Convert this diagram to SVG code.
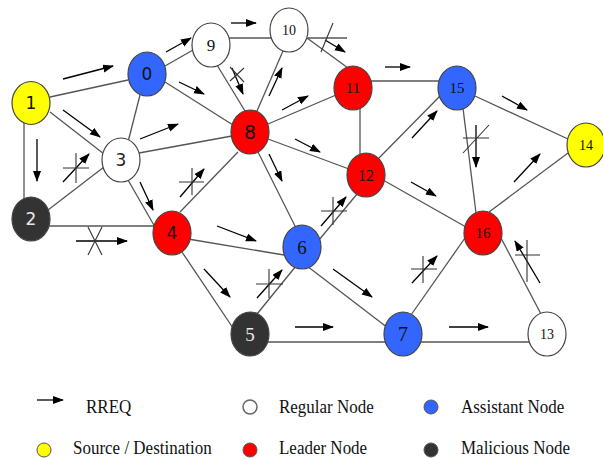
<svg xmlns="http://www.w3.org/2000/svg" width="603" height="459" viewBox="0 0 603 459">
<defs>
<marker id="ah" markerUnits="userSpaceOnUse" markerWidth="11" markerHeight="9" refX="10" refY="4" orient="auto">
<path d="M0,0 L11,4 L0,8 z" fill="#000"/>
</marker>
<style>
.e{stroke:#555;stroke-width:1.3;fill:none}
.a{stroke:#000;stroke-width:1.3;fill:none;marker-end:url(#ah)}
.m{stroke:#333;stroke-width:1.1;fill:none}
.n{stroke:#444;stroke-width:1.2}
.y{fill:#ffff00}.b{fill:#3366ff}.r{fill:#ff0000}.w{fill:#ffffff}.k{fill:#333333}
.ts{text-anchor:middle}
.tr{text-anchor:middle}
.lg{font-size:17px;fill:#111}
</style>
</defs>
<rect width="603" height="459" fill="#fff"/>
<g id="connectors">
<line class="e" x1="50" y1="97" x2="128" y2="80"/>
<line class="e" x1="50" y1="112" x2="104" y2="154"/>
<line class="e" x1="24" y1="118" x2="24" y2="205"/>
<line class="e" x1="48" y1="210" x2="104" y2="167"/>
<line class="e" x1="48" y1="226" x2="155" y2="226"/>
<line class="e" x1="128" y1="142" x2="140" y2="95"/>
<line class="e" x1="139" y1="153" x2="232" y2="136"/>
<line class="e" x1="128" y1="180" x2="155" y2="227"/>
<line class="e" x1="165" y1="66" x2="193" y2="50"/>
<line class="e" x1="165" y1="82" x2="233" y2="125"/>
<line class="e" x1="229" y1="38" x2="271" y2="38"/>
<line class="e" x1="217" y1="65" x2="245" y2="111"/>
<line class="e" x1="283" y1="51" x2="257" y2="111"/>
<line class="e" x1="307" y1="38" x2="348" y2="68"/>
<line class="e" x1="268" y1="124" x2="336" y2="95"/>
<line class="e" x1="268" y1="139" x2="349" y2="169"/>
<line class="e" x1="258" y1="152" x2="296" y2="228"/>
<line class="e" x1="238" y1="152" x2="180" y2="212"/>
<line class="e" x1="371" y1="81" x2="439" y2="81"/>
<line class="e" x1="360" y1="108" x2="360" y2="155"/>
<line class="e" x1="376" y1="161" x2="442" y2="94"/>
<line class="e" x1="383" y1="180" x2="466" y2="227"/>
<line class="e" x1="357" y1="194" x2="319" y2="240"/>
<line class="e" x1="475" y1="96" x2="568" y2="139"/>
<line class="e" x1="463" y1="108" x2="476" y2="213"/>
<line class="e" x1="489" y1="212" x2="568" y2="153"/>
<line class="e" x1="465" y1="238" x2="411" y2="315"/>
<line class="e" x1="501" y1="238" x2="541" y2="314"/>
<line class="e" x1="262" y1="342" x2="535" y2="342"/>
<line class="e" x1="188" y1="239" x2="284" y2="255"/>
<line class="e" x1="182" y1="252" x2="233" y2="328"/>
<line class="e" x1="257" y1="314" x2="296" y2="266"/>
<line class="e" x1="307" y1="266" x2="388" y2="328"/>
<line class="e" x1="308" y1="38" x2="347" y2="38"/>
<line class="a" x1="63" y1="79" x2="113" y2="66"/>
<line class="a" x1="63" y1="110" x2="100" y2="137"/>
<line class="a" x1="37" y1="139" x2="37" y2="181"/>
<line class="a" x1="63" y1="182" x2="89" y2="154"/>
<line class="a" x1="76" y1="241" x2="127" y2="241"/>
<line class="a" x1="140" y1="182" x2="153" y2="210"/>
<line class="a" x1="180" y1="197" x2="204" y2="169"/>
<line class="a" x1="140" y1="139" x2="178" y2="124"/>
<line class="a" x1="166" y1="52" x2="191" y2="38"/>
<line class="a" x1="179" y1="82" x2="204" y2="94"/>
<line class="a" x1="231" y1="23" x2="256" y2="23"/>
<line class="a" x1="232" y1="68" x2="243" y2="94"/>
<line class="a" x1="269" y1="96" x2="282" y2="68"/>
<line class="a" x1="282" y1="110" x2="308" y2="96"/>
<line class="a" x1="295" y1="139" x2="320" y2="152"/>
<line class="a" x1="269" y1="154" x2="282" y2="181"/>
<line class="a" x1="325" y1="40" x2="345" y2="52"/>
<line class="a" x1="385" y1="67" x2="410" y2="67"/>
<line class="a" x1="502" y1="96" x2="527" y2="110"/>
<line class="a" x1="412" y1="138" x2="437" y2="111"/>
<line class="a" x1="476" y1="125" x2="476" y2="167"/>
<line class="a" x1="411" y1="182" x2="436" y2="196"/>
<line class="a" x1="514" y1="182" x2="540" y2="154"/>
<line class="a" x1="412" y1="283" x2="437" y2="256"/>
<line class="a" x1="540" y1="283" x2="515" y2="241"/>
<line class="a" x1="449" y1="327" x2="488" y2="327"/>
<line class="a" x1="295" y1="327" x2="333" y2="327"/>
<line class="a" x1="217" y1="226" x2="256" y2="241"/>
<line class="a" x1="204" y1="269" x2="230" y2="297"/>
<line class="a" x1="257" y1="298" x2="282" y2="270"/>
<line class="a" x1="321" y1="226" x2="346" y2="197"/>
<line class="a" x1="333" y1="269" x2="372" y2="297"/>
<path class="m" d="M63,168 H89 M76,153 V183"/>
<path class="m" d="M88,227 L102,255 M102,227 L88,255"/>
<path class="m" d="M179,182 H204 M192,168 V195"/>
<path class="m" d="M230,67 L244,82 M230,81 L244,68"/>
<path class="m" d="M333,23 L321,52"/>
<path class="m" d="M463,138 H489 M463,153 L489,125"/>
<path class="m" d="M411,269 H437 M423,256 V283"/>
<path class="m" d="M515,255 H540 M527,240 V282"/>
<path class="m" d="M256,284 H283 M269,269 V298"/>
<path class="m" d="M321,211 H347 M333,197 V225"/>
</g>
<g font-family="DejaVu Sans, sans-serif" fill="#111">
<g id="n1"><ellipse class="n y" cx="31" cy="103" rx="19" ry="21.5"/><text class="ts" x="31" y="109" font-size="17" fill="#111">1</text></g>
<g id="n0"><ellipse class="n b" cx="147" cy="74" rx="19" ry="22"/><text class="ts" x="147" y="80" font-size="17" fill="#111">0</text></g>
<g id="n8"><ellipse class="n r" cx="250" cy="132" rx="19" ry="22"/><text class="ts" x="250" y="139" font-size="19" fill="#111">8</text></g>
<g id="n3"><ellipse class="n w" cx="121" cy="160" rx="19" ry="22"/><text class="ts" x="121" y="166" font-size="17" fill="#222">3</text></g>
<g id="n2"><ellipse class="n k" cx="31" cy="219" rx="19" ry="22"/><text class="ts" x="31" y="225" font-size="17" fill="#e8e8e8">2</text></g>
<g id="n4"><ellipse class="n r" cx="172" cy="233" rx="19" ry="22"/><text class="ts" x="172" y="239" font-size="17" fill="#111">4</text></g>
</g>
<g font-family="Liberation Serif, Times New Roman, serif">
<g id="n9"><ellipse class="n w" cx="211" cy="45" rx="19" ry="22"/><text class="tr" x="211" y="51" font-size="17" fill="#111">9</text></g>
<g id="n10"><ellipse class="n w" cx="289" cy="30" rx="19" ry="22"/><text class="tr" x="289" y="35" font-size="14" fill="#111">10</text></g>
<g id="n11"><ellipse class="n r" cx="353" cy="88" rx="19" ry="22"/><text class="tr" x="353" y="93" font-size="15" fill="#111">11</text></g>
<g id="n15"><ellipse class="n b" cx="457" cy="88" rx="19" ry="22"/><text class="tr" x="457" y="93" font-size="15" fill="#111">15</text></g>
<g id="n14"><ellipse class="n y" cx="586" cy="145" rx="19" ry="22"/><text class="tr" x="586" y="150" font-size="14" fill="#111">14</text></g>
<g id="n12"><ellipse class="n r" cx="366" cy="175" rx="19" ry="22"/><text class="tr" x="366" y="181" font-size="16" fill="#111">12</text></g>
<g id="n6"><ellipse class="n b" cx="302" cy="247" rx="19" ry="22"/><text class="tr" x="302" y="254" font-size="19" fill="#111">6</text></g>
<g id="n5"><ellipse class="n k" cx="250" cy="334" rx="19" ry="22"/><text class="tr" x="250" y="341" font-size="19" fill="#e8e8e8">5</text></g>
<g id="n7"><ellipse class="n b" cx="403" cy="334" rx="19" ry="22"/><text class="tr" x="403" y="341" font-size="20" fill="#111">7</text></g>
<g id="n16"><ellipse class="n r" cx="483" cy="233" rx="19" ry="22"/><text class="tr" x="483" y="238" font-size="15" fill="#111">16</text></g>
<g id="n13"><ellipse class="n w" cx="547" cy="334" rx="19" ry="22"/><text class="tr" x="547" y="339" font-size="14" fill="#111">13</text></g>
</g>
<g id="legend" font-family="Liberation Serif, Times New Roman, serif">
<line class="a" x1="37" y1="400" x2="63" y2="400"/>
<text class="lg" transform="translate(86,413) scale(1,1.15)">RREQ</text>
<circle cx="250" cy="407" r="7" fill="#fff" stroke="#666" stroke-width="1.5"/>
<text class="lg" transform="translate(279,413) scale(1,1.15)">Regular Node</text>
<circle cx="431" cy="407" r="7" fill="#3366ff" stroke="#555" stroke-width="1"/>
<text class="lg" transform="translate(461,413) scale(1,1.15)">Assistant Node</text>
<circle cx="44" cy="450" r="7" fill="#ffff00" stroke="#555" stroke-width="1"/>
<text class="lg" transform="translate(73,454) scale(1,1.15)">Source / Destination</text>
<circle cx="250" cy="450" r="7" fill="#ff0000" stroke="#555" stroke-width="1"/>
<text class="lg" transform="translate(279,454) scale(1,1.15)">Leader Node</text>
<circle cx="431" cy="450" r="7" fill="#333333" stroke="#555" stroke-width="1"/>
<text class="lg" transform="translate(461,454) scale(1,1.15)">Malicious Node</text>
</g>
</svg>
